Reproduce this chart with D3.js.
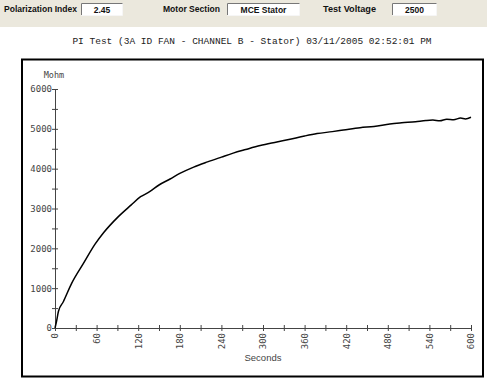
<!DOCTYPE html>
<html>
<head>
<meta charset="utf-8">
<script src="https://cdn.jsdelivr.net/npm/d3@7"></script>
<style>
  body { margin: 0; background: #fff; }
  svg { display: block; }
</style>
</head>
<body>
<div id="graph"></div>
<script>
// PI test readings: seconds vs megohms
const seconds = [0, 2, 5, 12, 24, 41, 58, 70, 91, 110, 123, 127, 137, 150, 166, 180, 200, 220, 240, 257,
    275, 296, 320, 339, 360, 378, 400, 416, 440, 460, 483, 500, 520, 535, 545, 555, 565, 575, 585, 592, 600];
const mohm = [0, 150, 420, 660, 1120, 1620, 2110, 2390, 2790, 3090, 3290, 3330, 3430, 3590, 3740, 3880, 4040, 4170, 4290, 4390,
    4480, 4580, 4670, 4740, 4820, 4880, 4930, 4970, 5030, 5060, 5120, 5150, 5180, 5210, 5220, 5200, 5240, 5230, 5270, 5250, 5290];
const yTicks = [0, 1000, 2000, 3000, 4000, 5000, 6000];
const xTicks = [0, 60, 120, 180, 240, 300, 360, 420, 480, 540, 600];
const headerFields = [
    {label: "Polarization Index", value: "2.45"},
    {label: "Motor Section", value: "MCE Stator"},
    {label: "Test Voltage", value: "2500"}
];
const title = "PI Test (3A ID FAN - CHANNEL B - Stator) 03/11/2005 02:52:01 PM";

const W = 487, H = 382;
const svg = d3.select("#graph").append("svg")
    .attr("width", W)
    .attr("height", H);

// header strip
svg.append("rect")
    .attr("x", 0).attr("y", 0)
    .attr("width", W).attr("height", 27)
    .attr("fill", "#ebe8dd");

const labelX = [4, 163, 323];
const labelW = [73, 57, 53];
const boxX = [81, 227, 392];
const boxW = [42, 73, 45];
headerFields.forEach((f, i) => {
    svg.append("text")
        .attr("x", labelX[i]).attr("y", 12)
        .attr("font-family", "Liberation Sans, Arial, sans-serif")
        .attr("font-size", 8.5)
        .attr("font-weight", "bold")
        .attr("fill", "#111")
        .attr("textLength", labelW[i])
        .attr("lengthAdjust", "spacingAndGlyphs")
        .text(f.label);
    const g = svg.append("g").attr("transform", `translate(${boxX[i]},3)`);
    g.append("rect").attr("width", boxW[i]).attr("height", 12).attr("fill", "#fff");
    g.append("path").attr("d", `M0.5,12V0.5H${boxW[i]}`).attr("fill", "none").attr("stroke", "#777").attr("stroke-width", 1);
    g.append("path").attr("d", `M0.5,12.5H${boxW[i] - 0.5}V0.5`).attr("fill", "none").attr("stroke", "#f6f6f6").attr("stroke-width", 1);
    g.append("text")
        .attr("x", boxW[i] / 2).attr("y", 10)
        .attr("text-anchor", "middle")
        .attr("font-family", "Liberation Sans, Arial, sans-serif")
        .attr("font-size", 8.5)
        .attr("font-weight", "bold")
        .attr("fill", "#111")
        .text(f.value);
});

svg.append("text")
    .attr("x", 252).attr("y", 44)
    .attr("text-anchor", "middle")
    .attr("font-family", "Liberation Mono, Courier New, monospace")
    .attr("font-size", 9.5)
    .attr("fill", "#222")
    .text(title);

// chart frame
svg.append("rect")
    .attr("x", 22).attr("y", 59.5)
    .attr("width", 461).attr("height", 317)
    .attr("fill", "none")
    .attr("stroke", "#000")
    .attr("stroke-width", 2);

const x = d3.scaleLinear().domain([0, 600]).range([55, 471]);
const y = d3.scaleLinear().domain([0, 6000]).range([328, 89]);

const tickFont = "DejaVu Sans Mono, Liberation Mono, monospace";

// y axis
const yAxis = svg.append("g")
    .attr("transform", "translate(55,0)")
    .call(d3.axisLeft(y).tickValues(d3.range(0, 6001, 500)).tickSize(3).tickSizeOuter(0)
        .tickFormat(d => yTicks.includes(d) ? d : ""));
yAxis.select(".domain").attr("stroke", "#444");
yAxis.selectAll(".tick line").attr("x2", 3).attr("x1", -3).attr("stroke", "#444");
yAxis.selectAll(".tick text")
    .attr("x", -3)
    .attr("font-family", tickFont)
    .attr("font-size", 9)
    .attr("fill", "#444");

// x axis
const xAxis = svg.append("g")
    .attr("transform", "translate(0,328)")
    .call(d3.axisBottom(x).tickValues(d3.range(0, 601, 30)).tickSize(3).tickSizeOuter(0)
        .tickFormat(d => xTicks.includes(d) ? d : ""));
xAxis.select(".domain").attr("stroke", "#444");
xAxis.selectAll(".tick line").attr("y1", -3).attr("y2", 3).attr("stroke", "#444");
xAxis.selectAll(".tick text")
    .attr("transform", "rotate(-90)")
    .attr("text-anchor", "end")
    .attr("x", -5).attr("y", 0)
    .attr("dy", "0.32em")
    .attr("font-family", tickFont)
    .attr("font-size", 9)
    .attr("fill", "#444");

svg.append("text")
    .attr("x", 54).attr("y", 78)
    .attr("text-anchor", "middle")
    .attr("font-family", tickFont)
    .attr("font-size", 8.5)
    .attr("fill", "#444")
    .text("Mohm");

svg.append("text")
    .attr("x", 263).attr("y", 361)
    .attr("text-anchor", "middle")
    .attr("font-family", "Liberation Sans, Arial, sans-serif")
    .attr("font-size", 9.5)
    .attr("fill", "#444")
    .text("Seconds");

const data = seconds.map((s, i) => ({s, v: mohm[i]}));
const line = d3.line()
    .curve(d3.curveMonotoneX)
    .x(d => x(d.s))
    .y(d => y(d.v));

svg.append("path")
    .datum(data)
    .attr("fill", "none")
    .attr("stroke", "#000")
    .attr("stroke-width", 1.5)
    .attr("d", line);
</script>
</body>
</html>
